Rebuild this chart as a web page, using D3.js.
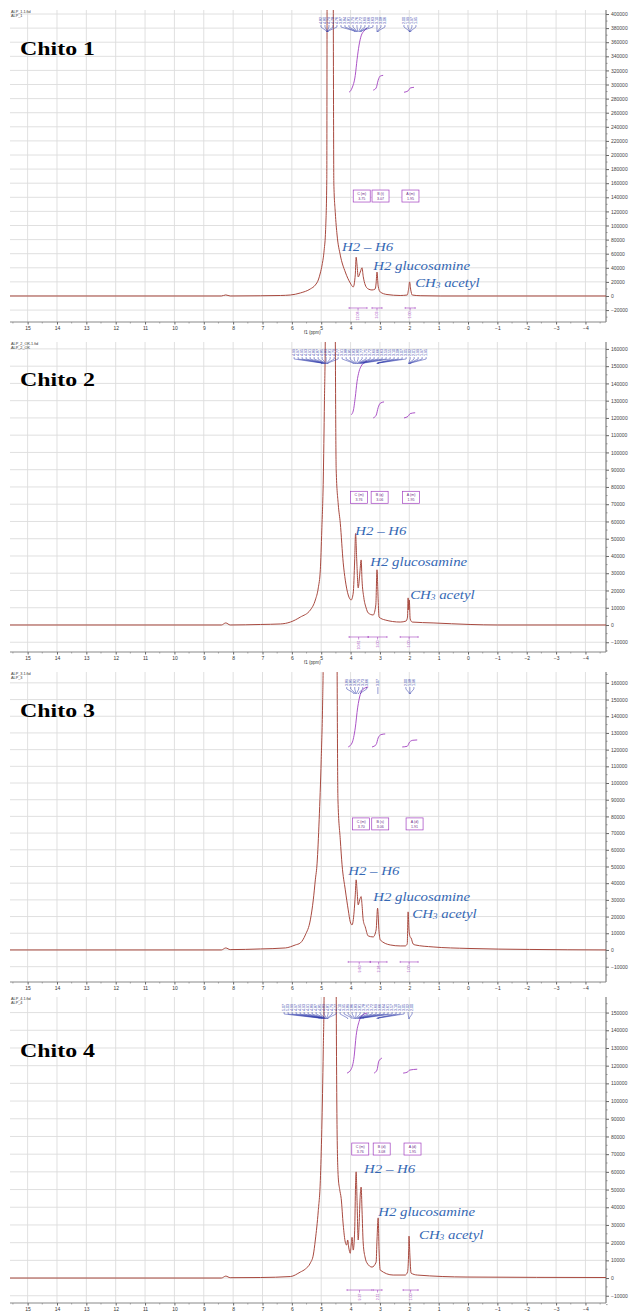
<!DOCTYPE html>
<html>
<head>
<meta charset="utf-8">
<script src="https://cdn.jsdelivr.net/npm/d3@7"></script>
<style>
  body { margin: 0; background: #fff; }
</style>
</head>
<body>
<div id="chart"></div>
<script>
// ---- data: [ppm, intensity] ----
const panelTitles = ['Chito 1', 'Chito 2', 'Chito 3', 'Chito 4'];
const fileNames = [['ALP_1.1.fid', 'ALP_1'], ['ALP_2_OK.1.fid', 'ALP_2_OK'], ['ALP_3.1.fid', 'ALP_3'], ['ALP_4.1.fid', 'ALP_4']];
const ppmTicks = d3.range(15, -5, -1);

const spectrum1 = [[15.6,0],[8.4,0],[8.25,1500],[8.1,0],[7.07,300],[6.39,700],[6.05,1400],[5.71,4300],[5.37,10000],[5.20,15600],[5.10,22700],[5.03,32600],[4.97,44000],[4.90,65000],[4.85,94000],[4.81,165000],[4.80,430000],[4.70,3000000],[4.59,430000],[4.57,160000],[4.52,118000],[4.46,86500],[4.35,58000],[4.18,34000],[4.01,18400],[3.91,12800],[3.84,30000],[3.81,55000],[3.78,44000],[3.74,27000],[3.67,34000],[3.61,40000],[3.57,28000],[3.50,15600],[3.40,10000],[3.27,8500],[3.16,10000],[3.13,18400],[3.10,34000],[3.06,14000],[2.99,5700],[2.76,2100],[2.31,700],[2.07,1400],[2.02,11000],[1.99,20000],[1.95,8500],[1.90,1400],[1.63,400],[0.95,0],[-4.7,0]];
const spectrum2 = [[15.6,0],[8.4,0],[8.25,1200],[8.1,0],[7.07,300],[6.39,600],[6.05,1700],[5.71,4600],[5.37,8700],[5.20,14500],[5.10,21500],[5.03,32000],[4.98,55000],[4.93,84000],[4.89,130000],[4.86,170000],[4.72,3000000],[4.52,170000],[4.49,90000],[4.42,70000],[4.35,59000],[4.25,36000],[4.18,26000],[4.08,17400],[3.98,14500],[3.91,18500],[3.86,37700],[3.83,53000],[3.79,37700],[3.74,21500],[3.69,29000],[3.64,37700],[3.61,26000],[3.55,16000],[3.47,9900],[3.40,7000],[3.23,5800],[3.14,11600],[3.10,32000],[3.06,14500],[3.03,4600],[2.82,2900],[2.31,1700],[2.11,2300],[2.06,4600],[2.04,15700],[2.02,8700],[2.00,14500],[1.97,3500],[1.90,1700],[1.19,1200],[-0.07,300],[-1.0,0],[-4.7,0]];
const spectrum3 = [[15.6,0],[8.4,0],[8.25,1200],[8.1,200],[7.07,600],[6.22,1200],[5.88,3000],[5.71,4200],[5.54,9000],[5.37,18000],[5.27,30000],[5.20,42000],[5.14,52000],[5.07,78000],[5.00,114000],[4.95,150000],[4.93,175000],[4.70,3000000],[4.46,175000],[4.43,90000],[4.35,66000],[4.29,51000],[4.18,36000],[4.08,24000],[4.01,16800],[3.95,15000],[3.88,22800],[3.84,33000],[3.81,42000],[3.78,36000],[3.74,27000],[3.69,30000],[3.64,32000],[3.61,27000],[3.57,18000],[3.50,13800],[3.40,8400],[3.23,7800],[3.13,12000],[3.08,25000],[3.03,10800],[2.99,6000],[2.65,3000],[2.31,2400],[2.14,2400],[2.07,3600],[2.04,22800],[2.01,12000],[1.97,7800],[1.94,7200],[1.87,3600],[1.80,3000],[1.19,1800],[0.0,900],[-2.1,300],[-4.7,0]];
const spectrum4 = [[15.6,0],[8.4,0],[8.25,1100],[8.1,200],[7.07,300],[6.05,850],[5.71,3400],[5.54,5100],[5.37,8500],[5.27,13000],[5.20,21500],[5.10,38000],[5.03,55000],[4.98,84000],[4.93,129000],[4.90,165000],[4.70,3000000],[4.49,165000],[4.46,84000],[4.42,57000],[4.37,50000],[4.32,45000],[4.25,30000],[4.18,20300],[4.13,18600],[4.10,21500],[4.06,17000],[4.01,14000],[3.98,18600],[3.95,23000],[3.91,15800],[3.86,27000],[3.83,52500],[3.81,60000],[3.78,44000],[3.74,21500],[3.71,30000],[3.67,47000],[3.64,51400],[3.61,38400],[3.57,19800],[3.50,11300],[3.44,8500],[3.27,6200],[3.13,9000],[3.10,21500],[3.06,34000],[3.03,15800],[2.99,4500],[2.55,1700],[2.14,1700],[2.06,3400],[2.02,15800],[2.01,23700],[1.98,13000],[1.94,2800],[1.73,1700],[0.03,565],[-4.7,300]];

const yTicks1 = d3.range(-20000, 400001, 20000);
const yTicks2 = d3.range(-10000, 160001, 10000);
const yTicks3 = d3.range(-10000, 160001, 10000);
const yTicks4 = d3.range(-10000, 150001, 10000);

// integral traces (purple), [ppm, intensity]
const integrals1 = [
  [[4.05,289000],[3.95,295000],[3.84,313000],[3.78,335000],[3.71,356000],[3.64,369000],[3.54,376000],[3.44,380000]],
  [[3.23,292000],[3.13,295000],[3.06,306000],[2.99,312000],[2.89,313000]],
  [[2.18,289000],[2.04,291000],[1.97,295000],[1.84,296000]]
];
const integrals2 = [
  [[3.98,121800],[3.91,124000],[3.84,132000],[3.78,141000],[3.71,147000],[3.64,150000],[3.54,152000],[3.44,153000]],
  [[3.23,120000],[3.13,121500],[3.06,126000],[2.99,128500],[2.86,129300]],
  [[2.18,120000],[2.04,121000],[1.97,122500],[1.80,123000]]
];
const integrals3 = [
  [[4.08,121600],[3.95,124000],[3.84,133000],[3.76,145000],[3.67,153000],[3.55,156500],[3.40,157500]],
  [[3.27,121600],[3.13,123000],[3.06,127000],[2.96,129000],[2.82,129400]],
  [[2.24,121600],[2.07,122000],[1.99,124500],[1.88,125600],[1.73,125800]]
];
const integrals4 = [
  [[4.12,115800],[3.98,118000],[3.88,125000],[3.81,137000],[3.71,145000],[3.60,148500],[3.44,149700]],
  [[3.20,115800],[3.10,117500],[3.04,122500],[2.93,124300]],
  [[2.21,115800],[2.07,116300],[1.99,117500],[1.73,118000]]
];

// multiplet boxes: [name, shift, ppm anchor, intensity anchor]
const boxes1 = [['C (m)', '3.75', 3.62, 141800], ['B (t)', '3.07', 2.98, 141800], ['A (m)', '1.95', 1.96, 141800]];
const boxes2 = [['C (m)', '3.76', 3.71, 74000], ['B (q)', '3.06', 3.01, 74000], ['A (m)', '1.95', 1.94, 74000]];
const boxes3 = [['C (m)', '3.70', 3.64, 75500], ['B (s)', '3.06', 2.99, 75500], ['A (d)', '1.91', 1.82, 75500]];
const boxes4 = [['C (m)', '3.76', 3.67, 72900], ['B (d)', '3.08', 2.94, 72900], ['A (d)', '1.95', 1.89, 72900]];

// integration ranges under the axis: [from ppm, to ppm, value]
const ranges1 = [[4.05, 3.44, '12.06'], [3.27, 2.93, '3.03'], [2.14, 1.80, '1.00']];
const ranges2 = [[4.05, 3.40, '10.61'], [3.40, 2.76, '3.00'], [2.31, 1.70, '1.00']];
const ranges3 = [[4.08, 3.33, '9.60'], [3.33, 2.76, '2.36'], [2.31, 1.70, '1.00']];
const ranges4 = [[4.12, 3.27, '9.37'], [3.23, 2.93, '2.11'], [2.21, 1.70, '1.00']];

// peak-picking labels, grouped
const peaks1 = [[4.82,4.80,4.79,4.78,4.76,3.87,3.84,3.81,3.79,3.76,3.72,3.69,3.66,3.63],[3.10,3.08,3.06],[2.00,1.99,1.97,1.95]];
const peaks2 = [[4.99,4.97,4.95,4.93,4.91,4.89,4.87,4.85,4.83,4.81,4.79,4.77,3.91,3.88,3.85,3.83,3.80,3.77,3.75,3.72,3.69,3.66,3.63,3.59,3.55],[3.10,3.08,3.07,3.05],[2.02,2.01,1.99,1.97,1.95]];
const peaks3 = [[3.89,3.85,3.82,3.79,3.73,3.66],[3.07],[2.00,1.98,1.96]];
const peaks4 = [[5.07,5.03,4.99,4.97,4.95,4.93,4.91,4.89,4.87,4.85,4.83,4.81,4.79,4.77,4.10,3.95,3.89,3.86,3.83,3.81,3.78,3.75,3.72,3.69,3.66,3.64,3.61,3.57,3.10,3.07,3.05,2.02,2.00]];

// assignments: [text, ppm of left edge, intensity of baseline]
const notes1 = [['H2 – H6', 4.29, 63800], ['H2 glucosamine', 3.23, 36900], ['CH3 acetyl', 1.80, 12800]];
const notes2 = [['H2 – H6', 3.84, 52200], ['H2 glucosamine', 3.33, 34200], ['CH3 acetyl', 1.97, 15100]];
const notes3 = [['H2 – H6', 4.08, 44900], ['H2 glucosamine', 3.23, 29400], ['CH3 acetyl', 1.90, 19200]];
const notes4 = [['H2 – H6', 3.54, 59300], ['H2 glucosamine', 3.06, 35000], ['CH3 acetyl', 1.67, 22000]];

// ---- layout ----
const width = 633, height = 1313;
const plotLeft = 10, plotRight = 606;
const sans = '"Liberation Sans", Arial, sans-serif';
const serif = '"Liberation Serif", "Times New Roman", serif';
const specColor = '#a8493f', intColor = '#a23fc0', peakColor = '#2a36a8', noteColor = '#3568b4';

const panels = [
  { top: 10, bottom: 322, yMin: -36900, yMax: 405700, ticks: yTicks1, minor: 10000, titleY: 55, unit: true,
    spectrum: spectrum1, integrals: integrals1, boxes: boxes1, ranges: ranges1, peaks: peaks1, notes: notes1 },
  { top: 342, bottom: 652, yMin: -15650, yMax: 164000, ticks: yTicks2, minor: 5000, titleY: 386, unit: true,
    spectrum: spectrum2, integrals: integrals2, boxes: boxes2, ranges: ranges2, peaks: peaks2, notes: notes2 },
  { top: 672, bottom: 982, yMin: -19200, yMax: 166500, ticks: yTicks3, minor: 5000, titleY: 717, unit: false,
    spectrum: spectrum3, integrals: integrals3, boxes: boxes3, ranges: ranges3, peaks: peaks3, notes: notes3 },
  { top: 997, bottom: 1303, yMin: -14100, yMax: 158800, ticks: yTicks4, minor: 5000, titleY: 1057, unit: false,
    spectrum: spectrum4, integrals: integrals4, boxes: boxes4, ranges: ranges4, peaks: peaks4, notes: notes4 }
];

const svg = d3.select('#chart').append('svg')
  .attr('width', width)
  .attr('height', height)
  .attr('viewBox', `0 0 ${width} ${height}`)
  .style('font-family', sans);

const x = d3.scaleLinear().domain([15.6, -4.7]).range([plotLeft, plotRight]);

panels.forEach((p, i) => {
  const y = d3.scaleLinear().domain([p.yMin, p.yMax]).range([p.bottom, p.top]);
  const g = svg.append('g');

  // grid
  g.append('g').selectAll('line').data(ppmTicks).enter().append('line')
    .attr('x1', d => x(d)).attr('x2', d => x(d))
    .attr('y1', p.top).attr('y2', p.bottom)
    .attr('stroke', '#dcdcdc').attr('stroke-width', 0.9);
  g.append('g').selectAll('line').data(p.ticks).enter().append('line')
    .attr('x1', plotLeft).attr('x2', plotRight)
    .attr('y1', d => y(d)).attr('y2', d => y(d))
    .attr('stroke', '#dcdcdc').attr('stroke-width', 0.9);

  // right intensity axis
  const yAxis = d3.axisRight(y)
    .tickValues(p.ticks)
    .tickSize(3)
    .tickFormat(d3.format('d'));
  const ya = g.append('g').attr('transform', `translate(${plotRight},0)`).call(yAxis);
  ya.attr('font-family', null);
  ya.select('.domain').attr('stroke', '#666').attr('d', `M0,${p.top}V${p.bottom}`);
  ya.selectAll('.tick line').attr('stroke', '#666');
  ya.selectAll('.tick text').attr('font-size', 5).attr('fill', '#444').attr('x', 5);
  g.append('g').selectAll('line').data(d3.range(p.ticks[0] - p.minor, p.yMax, p.minor * 2)).enter().append('line')
    .attr('x1', plotRight).attr('x2', plotRight + 1.6)
    .attr('y1', d => y(d)).attr('y2', d => y(d))
    .attr('stroke', '#666').attr('stroke-width', 0.6);

  // bottom ppm axis
  const xAxis = d3.axisBottom(x).tickValues(ppmTicks).tickSize(2.5).tickFormat(d3.format('d'));
  const xa = g.append('g').attr('transform', `translate(0,${p.bottom})`).call(xAxis);
  xa.attr('font-family', null);
  xa.select('.domain').attr('stroke', '#888').attr('d', `M${plotLeft},0H${plotRight}`);
  xa.selectAll('.tick line').attr('stroke', '#666');
  xa.selectAll('.tick text').attr('font-size', 5).attr('fill', '#333').attr('y', 4);
  g.append('g').selectAll('line').data(d3.range(15.5, -4.6, -1)).enter().append('line')
    .attr('x1', d => x(d)).attr('x2', d => x(d))
    .attr('y1', p.bottom).attr('y2', p.bottom + 1.5)
    .attr('stroke', '#777').attr('stroke-width', 0.6);
  if (p.unit) {
    g.append('text').attr('x', x(5.3)).attr('y', p.bottom + 12)
      .attr('text-anchor', 'middle').attr('font-size', 4.5).attr('fill', '#333').text('f1 (ppm)');
  }

  // file names and panel title
  g.append('text').attr('x', 11).attr('y', p.top + 3).attr('font-size', 3.8).attr('fill', '#333').text(fileNames[i][0]);
  g.append('text').attr('x', 11).attr('y', p.top + 7).attr('font-size', 3.8).attr('fill', '#333').text(fileNames[i][1]);
  g.append('text').attr('x', 20).attr('y', p.titleY)
    .style('font-family', serif)
    .attr('font-weight', 'bold').attr('font-size', 18)
    .attr('textLength', 75).attr('lengthAdjust', 'spacingAndGlyphs')
    .text(panelTitles[i]);

  // spectrum, clipped to plot
  const clipId = `clip-${i}`;
  svg.append('defs').append('clipPath').attr('id', clipId)
    .append('rect').attr('x', plotLeft).attr('y', p.top).attr('width', plotRight - plotLeft).attr('height', p.bottom - p.top);
  const line = d3.line().x(d => x(d[0])).y(d => y(d[1])).curve(d3.curveMonotoneX);
  g.append('path').datum(p.spectrum)
    .attr('clip-path', `url(#${clipId})`)
    .attr('d', line)
    .attr('fill', 'none').attr('stroke', specColor).attr('stroke-width', 1);

  // integral traces
  g.append('g').selectAll('path').data(p.integrals).enter().append('path')
    .attr('d', line).attr('fill', 'none').attr('stroke', intColor).attr('stroke-width', 0.9);

  // multiplet boxes
  const box = g.append('g').selectAll('g').data(p.boxes).enter().append('g')
    .attr('transform', d => `translate(${x(d[2])},${y(d[3])})`);
  box.append('rect').attr('x', -8.5).attr('y', -6).attr('width', 17).attr('height', 12)
    .attr('fill', '#fff').attr('stroke', intColor).attr('stroke-width', 0.7);
  box.append('text').attr('y', -1).attr('text-anchor', 'middle').attr('font-size', 3.6).attr('fill', '#6a2a86').text(d => d[0]);
  box.append('text').attr('y', 3.8).attr('text-anchor', 'middle').attr('font-size', 3.6).attr('fill', '#6a2a86').text(d => d[1]);

  // integration ranges under the baseline
  const by = y(0) + 12;
  const rg = g.append('g').selectAll('g').data(p.ranges).enter().append('g');
  rg.append('path')
    .attr('d', d => `M${x(d[0])},${by - 1}V${by + 1}M${x(d[0])},${by}H${x(d[1])}M${x(d[1])},${by - 1}V${by + 1}M${(x(d[0]) + x(d[1])) / 2},${by}V${by + 2.5}`)
    .attr('fill', 'none').attr('stroke', intColor).attr('stroke-width', 0.6);
  rg.append('text')
    .attr('transform', d => `translate(${(x(d[0]) + x(d[1])) / 2 + 1.3},${by + 3.5}) rotate(-90)`)
    .attr('text-anchor', 'end').attr('font-size', 3.6).attr('fill', intColor).text(d => d[2]);

  // peak-picking labels with connector trees
  const labelBase = p.top + 14;
  const pk = g.append('g');
  let cursor = -Infinity;
  p.peaks.forEach(group => {
    const center = d3.mean(group, v => x(v));
    const start = Math.max(center - (group.length - 1) * 2, cursor + 4);
    group.forEach((v, k) => {
      const lx = start + k * 4;
      pk.append('text')
        .attr('transform', `translate(${lx + 1.3},${labelBase}) rotate(-90)`)
        .attr('font-size', 3.6).attr('fill', peakColor).text(v.toFixed(2));
      pk.append('path')
        .attr('d', `M${lx},${labelBase + 1}V${labelBase + 3}L${x(v)},${labelBase + 7}V${labelBase + 8}`)
        .attr('fill', 'none').attr('stroke', peakColor).attr('stroke-width', 0.5);
    });
    cursor = start + (group.length - 1) * 4;
  });

  // assignments
  const nt = g.append('g').selectAll('text').data(p.notes).enter().append('text')
    .attr('transform', d => `translate(${x(d[1])},${y(d[2])}) scale(1.1,1)`)
    .style('font-family', serif)
    .attr('font-style', 'italic').attr('font-size', 13.5).attr('fill', noteColor);
  nt.each(function (d) {
    const t = d3.select(this);
    if (d[0].startsWith('CH3')) {
      t.append('tspan').text('CH');
      t.append('tspan').attr('font-size', 8.5).attr('dy', 1).text('3');
      t.append('tspan').attr('dy', -1).text(' acetyl');
    } else {
      t.text(d[0]);
    }
  });
});
</script>
</body>
</html>
